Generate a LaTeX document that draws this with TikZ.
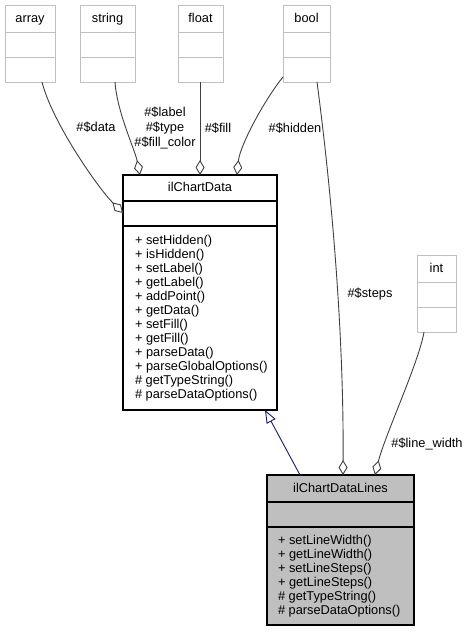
\documentclass[tikz,border=0pt]{standalone}
\usepackage{fontspec}
\setmainfont{Liberation Sans}
\usetikzlibrary{arrows.meta}
\definecolor{edgegray}{HTML}{404040}
\definecolor{boxgray}{HTML}{BFBFBF}
\definecolor{typeborder}{HTML}{BFBFBF}
\definecolor{inhblue}{RGB}{25,25,112}
\begin{document}
\begin{tikzpicture}[x=1pt,y=-1pt,
  font=\fontsize{12.8}{14}\selectfont,
  typebox/.style={draw=typeborder, line width=1pt, fill=white, anchor=north west, inner sep=0pt, outer sep=0pt},
  classbox/.style={draw=black, line width=1.1pt, fill=white, anchor=north west, inner sep=0pt, outer sep=0pt},
  subjbox/.style={classbox, fill=boxgray},
  txt/.style={inner sep=0pt, outer sep=0pt, anchor=base},
  member/.style={inner sep=0pt, outer sep=0pt, anchor=base west},
  elabel/.style={inner sep=0pt, outer sep=0pt, anchor=base},
  agg/.style={draw=edgegray, line width=0.9pt, {Diamond[open, fill=white, length=15pt, width=9pt]}-},
  inh/.style={draw=inhblue, line width=0.9pt, -{Triangle[open, fill=white, length=13pt, width=10pt]}},
  tsep/.style={draw=typeborder, line width=1pt},
  csep/.style={draw=black, line width=1.1pt}
]
\useasboundingbox (0,0) rectangle (469,632);

% type boxes
\node[typebox, minimum width=50pt, minimum height=77pt] (array) at (5,5) {};
\node[txt] (arrayT) at (30,22) {array};
\draw[tsep] (5,32) -- (55,32) (5,57) -- (55,57);

\node[typebox, minimum width=55pt, minimum height=77pt] (string) at (80,5) {};
\node[txt] (stringT) at (107.5,22) {string};
\draw[tsep] (80,32) -- (135,32) (80,57) -- (135,57);

\node[typebox, minimum width=45pt, minimum height=77pt] (float) at (178,5) {};
\node[txt] (floatT) at (200.5,22) {float};
\draw[tsep] (178,32) -- (223,32) (178,57) -- (223,57);

\node[typebox, minimum width=47pt, minimum height=77pt] (bool) at (283,5) {};
\node[txt] (boolT) at (306.5,22) {bool};
\draw[tsep] (283,32) -- (330,32) (283,57) -- (330,57);

\node[typebox, minimum width=39pt, minimum height=77pt] (int) at (417,255) {};
\node[txt] (intT) at (436.5,272) {int};
\draw[tsep] (417,282) -- (456,282) (417,307) -- (456,307);

% ilChartData
\node[classbox, minimum width=154pt, minimum height=235pt] (cd) at (123,175) {};
\node[txt] (cdT) at (200,191.5) {ilChartData};
\draw[csep] (123,201) -- (277,201) (123,226) -- (277,226);
\foreach \t [count=\i from 0] in {+ setHidden(), + isHidden(), + setLabel(), + getLabel(), + addPoint(), + getData(), + setFill(), + getFill(), + parseData(), + parseGlobalOptions(), \# getTypeString(), \# parseDataOptions()}
  \node[member] (cdm\i) at (135,244+14*\i) {\t};

% ilChartDataLines
\node[subjbox, minimum width=147pt, minimum height=150pt] (L) at (267,475) {};
\node[txt] (LT) at (340.5,492.5) {ilChartDataLines};
\draw[csep] (267,502) -- (414,502) (267,527) -- (414,527);
\foreach \t [count=\i from 0] in {+ setLineWidth(), + getLineWidth(), + setLineSteps(), + getLineSteps(), \# getTypeString(), \# parseDataOptions()}
  \node[member] (Lm\i) at (278,544+14.1*\i) {\t};

% aggregation edges
\draw[agg] ([yshift=-38pt]cd.north west) .. controls +(-25,-25) and +(10,40) .. ([xshift=12pt]array.south);
\draw[agg] ([xshift=17pt]cd.north west) .. controls +(-5,-25) and +(2,30) .. ([xshift=7.5pt]string.south);
\draw[agg] (cd.north) -- (cd.north |- float.south);
\draw[agg] ([xshift=-40pt]cd.north east) .. controls +(3,-30) and +(-18,22) .. ([yshift=5pt]bool.south west);
\draw[agg] ([xshift=2.5pt]L.north) .. controls +(1,-150) and +(13,98) .. ([xshift=10.5pt]bool.south);
\draw[agg] ([xshift=34.5pt]L.north) .. controls +(10,-40) and +(-5,30) .. ([xshift=-12.5pt]int.south);

% inheritance
\draw[inh] ([xshift=-40.5pt]L.north) -- ([xshift=-12pt]cd.south east);

% edge labels
\node[elabel] (lData) at (96,131.5) {\#\$data};
\node[inner sep=0pt, align=center, font=\fontsize{12.8}{15}\selectfont] (lStr) at (165,128) {\#\$label\\\#\$type\\\#\$fill\_color};
\node[elabel] (lFill) at (218,132.5) {\#\$fill};
\node[elabel] (lHidden) at (295,132.5) {\#\$hidden};
\node[elabel] (lSteps) at (370,297.5) {\#\$steps};
\node[elabel] (lLW) at (427,447.5) {\#\$line\_width};
\end{tikzpicture}
\end{document}
